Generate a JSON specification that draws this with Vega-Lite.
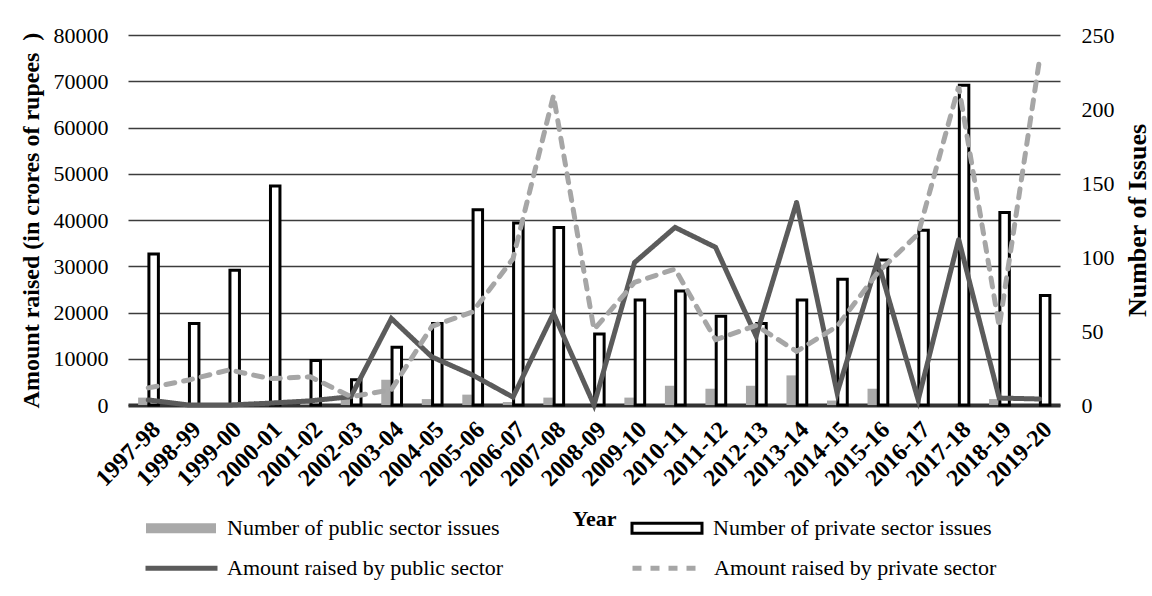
{
  "$schema": "https://vega.github.io/schema/vega-lite/v6.json",
  "width": 932,
  "height": 370,
  "autosize": {"type": "none"},
  "padding": {"left": 128, "top": 35, "right": 92, "bottom": 191},
  "background": "white",
  "config": {
    "font": "Liberation Serif",
    "view": {"stroke": null},
    "axis": {"labelFont": "Liberation Serif", "titleFont": "Liberation Serif", "labelColor": "black", "titleColor": "black"},
    "legend": {"labelFont": "Liberation Serif", "labelColor": "black", "labelFontSize": 22, "padding": 0}
  },
  "datasets": {
    "issues": [
      {"year": "1997-98", "series": "Number of public sector issues", "count": 5},
      {"year": "1997-98", "series": "Number of private sector issues", "count": 102},
      {"year": "1998-99", "series": "Number of public sector issues", "count": 0},
      {"year": "1998-99", "series": "Number of private sector issues", "count": 55},
      {"year": "1999-00", "series": "Number of public sector issues", "count": 0},
      {"year": "1999-00", "series": "Number of private sector issues", "count": 91},
      {"year": "2000-01", "series": "Number of public sector issues", "count": 0},
      {"year": "2000-01", "series": "Number of private sector issues", "count": 148},
      {"year": "2001-02", "series": "Number of public sector issues", "count": 1},
      {"year": "2001-02", "series": "Number of private sector issues", "count": 30},
      {"year": "2002-03", "series": "Number of public sector issues", "count": 5},
      {"year": "2002-03", "series": "Number of private sector issues", "count": 17},
      {"year": "2003-04", "series": "Number of public sector issues", "count": 17},
      {"year": "2003-04", "series": "Number of private sector issues", "count": 39},
      {"year": "2004-05", "series": "Number of public sector issues", "count": 4},
      {"year": "2004-05", "series": "Number of private sector issues", "count": 55},
      {"year": "2005-06", "series": "Number of public sector issues", "count": 7},
      {"year": "2005-06", "series": "Number of private sector issues", "count": 132},
      {"year": "2006-07", "series": "Number of public sector issues", "count": 2},
      {"year": "2006-07", "series": "Number of private sector issues", "count": 123},
      {"year": "2007-08", "series": "Number of public sector issues", "count": 5},
      {"year": "2007-08", "series": "Number of private sector issues", "count": 120},
      {"year": "2008-09", "series": "Number of public sector issues", "count": 0},
      {"year": "2008-09", "series": "Number of private sector issues", "count": 48},
      {"year": "2009-10", "series": "Number of public sector issues", "count": 5},
      {"year": "2009-10", "series": "Number of private sector issues", "count": 71},
      {"year": "2010-11", "series": "Number of public sector issues", "count": 13},
      {"year": "2010-11", "series": "Number of private sector issues", "count": 77},
      {"year": "2011-12", "series": "Number of public sector issues", "count": 11},
      {"year": "2011-12", "series": "Number of private sector issues", "count": 60},
      {"year": "2012-13", "series": "Number of public sector issues", "count": 13},
      {"year": "2012-13", "series": "Number of private sector issues", "count": 55},
      {"year": "2013-14", "series": "Number of public sector issues", "count": 20},
      {"year": "2013-14", "series": "Number of private sector issues", "count": 71},
      {"year": "2014-15", "series": "Number of public sector issues", "count": 3},
      {"year": "2014-15", "series": "Number of private sector issues", "count": 85},
      {"year": "2015-16", "series": "Number of public sector issues", "count": 11},
      {"year": "2015-16", "series": "Number of private sector issues", "count": 98},
      {"year": "2016-17", "series": "Number of public sector issues", "count": 0},
      {"year": "2016-17", "series": "Number of private sector issues", "count": 118},
      {"year": "2017-18", "series": "Number of public sector issues", "count": 0},
      {"year": "2017-18", "series": "Number of private sector issues", "count": 216},
      {"year": "2018-19", "series": "Number of public sector issues", "count": 4},
      {"year": "2018-19", "series": "Number of private sector issues", "count": 130},
      {"year": "2019-20", "series": "Number of public sector issues", "count": 0},
      {"year": "2019-20", "series": "Number of private sector issues", "count": 74}
    ],
    "amounts": [
      {"year": "1997-98", "series": "Amount raised by public sector", "amount": 1100},
      {"year": "1998-99", "series": "Amount raised by public sector", "amount": 0},
      {"year": "1999-00", "series": "Amount raised by public sector", "amount": 0},
      {"year": "2000-01", "series": "Amount raised by public sector", "amount": 400},
      {"year": "2001-02", "series": "Amount raised by public sector", "amount": 900},
      {"year": "2002-03", "series": "Amount raised by public sector", "amount": 1800},
      {"year": "2003-04", "series": "Amount raised by public sector", "amount": 18700},
      {"year": "2004-05", "series": "Amount raised by public sector", "amount": 10400},
      {"year": "2005-06", "series": "Amount raised by public sector", "amount": 6500},
      {"year": "2006-07", "series": "Amount raised by public sector", "amount": 1700},
      {"year": "2007-08", "series": "Amount raised by public sector", "amount": 19800},
      {"year": "2008-09", "series": "Amount raised by public sector", "amount": 0},
      {"year": "2009-10", "series": "Amount raised by public sector", "amount": 30800},
      {"year": "2010-11", "series": "Amount raised by public sector", "amount": 38400},
      {"year": "2011-12", "series": "Amount raised by public sector", "amount": 34100},
      {"year": "2012-13", "series": "Amount raised by public sector", "amount": 14900},
      {"year": "2013-14", "series": "Amount raised by public sector", "amount": 43800},
      {"year": "2014-15", "series": "Amount raised by public sector", "amount": 2600},
      {"year": "2015-16", "series": "Amount raised by public sector", "amount": 31200},
      {"year": "2016-17", "series": "Amount raised by public sector", "amount": 1100},
      {"year": "2017-18", "series": "Amount raised by public sector", "amount": 35800},
      {"year": "2018-19", "series": "Amount raised by public sector", "amount": 1500},
      {"year": "2019-20", "series": "Amount raised by public sector", "amount": 1300},
      {"year": "1997-98", "series": "Amount raised by private sector", "amount": 3700},
      {"year": "1998-99", "series": "Amount raised by private sector", "amount": 5400},
      {"year": "1999-00", "series": "Amount raised by private sector", "amount": 7600},
      {"year": "2000-01", "series": "Amount raised by private sector", "amount": 5700},
      {"year": "2001-02", "series": "Amount raised by private sector", "amount": 6100},
      {"year": "2002-03", "series": "Amount raised by private sector", "amount": 1800},
      {"year": "2003-04", "series": "Amount raised by private sector", "amount": 3300},
      {"year": "2004-05", "series": "Amount raised by private sector", "amount": 17000},
      {"year": "2005-06", "series": "Amount raised by private sector", "amount": 20100},
      {"year": "2006-07", "series": "Amount raised by private sector", "amount": 31600},
      {"year": "2007-08", "series": "Amount raised by private sector", "amount": 66900},
      {"year": "2008-09", "series": "Amount raised by private sector", "amount": 16300},
      {"year": "2009-10", "series": "Amount raised by private sector", "amount": 26500},
      {"year": "2010-11", "series": "Amount raised by private sector", "amount": 29400},
      {"year": "2011-12", "series": "Amount raised by private sector", "amount": 14100},
      {"year": "2012-13", "series": "Amount raised by private sector", "amount": 17200},
      {"year": "2013-14", "series": "Amount raised by private sector", "amount": 11600},
      {"year": "2014-15", "series": "Amount raised by private sector", "amount": 17000},
      {"year": "2015-16", "series": "Amount raised by private sector", "amount": 28600},
      {"year": "2016-17", "series": "Amount raised by private sector", "amount": 37000},
      {"year": "2017-18", "series": "Amount raised by private sector", "amount": 68900},
      {"year": "2018-19", "series": "Amount raised by private sector", "amount": 16900},
      {"year": "2019-20", "series": "Amount raised by private sector", "amount": 75000}
    ]
  },
  "layer": [
    {
      "data": {"name": "issues"},
      "mark": {"type": "bar", "strokeWidth": 3},
      "encoding": {
        "x": {
          "field": "year", "type": "nominal", "sort": null,
          "scale": {"paddingInner": 0.5, "paddingOuter": 0.25},
          "axis": {
            "labelAngle": -45, "labelFontSize": 24, "labelFontWeight": "bold", "ticks": false,
            "labelPadding": 12, "labelDx": 7, "domainColor": "#333333", "domainWidth": 4,
            "title": "Year", "titleFontSize": 22, "titleFontWeight": "bold", "titlePadding": 18
          }
        },
        "xOffset": {
          "field": "series", "type": "nominal", "sort": null,
          "scale": {"domain": ["Number of public sector issues", "Number of private sector issues"], "paddingInner": 0.12}
        },
        "y": {
          "field": "count", "type": "quantitative",
          "scale": {"domain": [0, 250]},
          "axis": {
            "orient": "right", "values": [0, 50, 100, 150, 200, 250], "grid": false, "ticks": false, "domain": false,
            "labelPadding": 21, "labelFontSize": 22,
            "title": "Number of Issues", "titleFontSize": 26, "titleFontWeight": "bold",
            "titleAngle": 270, "titleBaseline": "top", "titlePadding": 10
          }
        },
        "fill": {
          "field": "series", "type": "nominal",
          "scale": {"domain": ["Number of public sector issues", "Number of private sector issues"], "range": ["#a9a9a9", "#ffffff"]},
          "legend": {
            "orient": "none", "legendX": 16.5, "legendY": 456.5, "direction": "horizontal", "columns": 2, "title": null,
            "symbolType": "M-1,-0.143H1V0.143H-1Z", "symbolSize": 4900, "symbolStrokeWidth": 3,
            "labelOffset": 9.5, "columnPadding": 126, "labelLimit": 400
          }
        },
        "stroke": {
          "field": "series", "type": "nominal",
          "scale": {"domain": ["Number of public sector issues", "Number of private sector issues"], "range": ["transparent", "#000000"]},
          "legend": {
            "orient": "none", "legendX": 16.5, "legendY": 456.5, "direction": "horizontal", "columns": 2, "title": null,
            "symbolType": "M-1,-0.143H1V0.143H-1Z", "symbolSize": 4900, "symbolStrokeWidth": 3,
            "labelOffset": 9.5, "columnPadding": 126, "labelLimit": 400
          }
        }
      }
    },
    {
      "data": {"name": "amounts"},
      "mark": {"type": "line", "strokeWidth": 5, "strokeCap": "round"},
      "encoding": {
        "x": {"field": "year", "type": "nominal", "sort": null},
        "y": {
          "field": "amount", "type": "quantitative",
          "scale": {"domain": [0, 80000]},
          "axis": {
            "orient": "left", "values": [0, 10000, 20000, 30000, 40000, 50000, 60000, 70000, 80000], "format": "d",
            "grid": true, "gridColor": "#3c3c3c", "gridWidth": 1.5, "ticks": false, "domain": false,
            "labelPadding": 20, "labelFontSize": 22,
            "title": "Amount raised (in crores of rupees\u00a0 )", "titleFontSize": 24, "titleFontWeight": "bold", "titlePadding": 10
          }
        },
        "color": {
          "field": "series", "type": "nominal",
          "scale": {"domain": ["Amount raised by public sector", "Amount raised by private sector"], "range": ["#5b5b5b", "#a6a6a6"]},
          "legend": {
            "orient": "none", "legendX": 15, "legendY": 494.5, "direction": "horizontal", "columns": 2, "title": null,
            "symbolType": "stroke", "symbolSize": 5184, "symbolStrokeWidth": 5,
            "labelOffset": 7, "columnPadding": 118, "labelLimit": 400
          }
        },
        "strokeDash": {
          "field": "series", "type": "nominal",
          "scale": {"domain": ["Amount raised by public sector", "Amount raised by private sector"], "range": [[1, 0], [9, 9]]},
          "legend": {
            "orient": "none", "legendX": 15, "legendY": 494.5, "direction": "horizontal", "columns": 2, "title": null,
            "symbolType": "stroke", "symbolSize": 5184, "symbolStrokeWidth": 5,
            "labelOffset": 7, "columnPadding": 118, "labelLimit": 400
          }
        }
      }
    }
  ],
  "resolve": {"scale": {"y": "independent"}}
}
